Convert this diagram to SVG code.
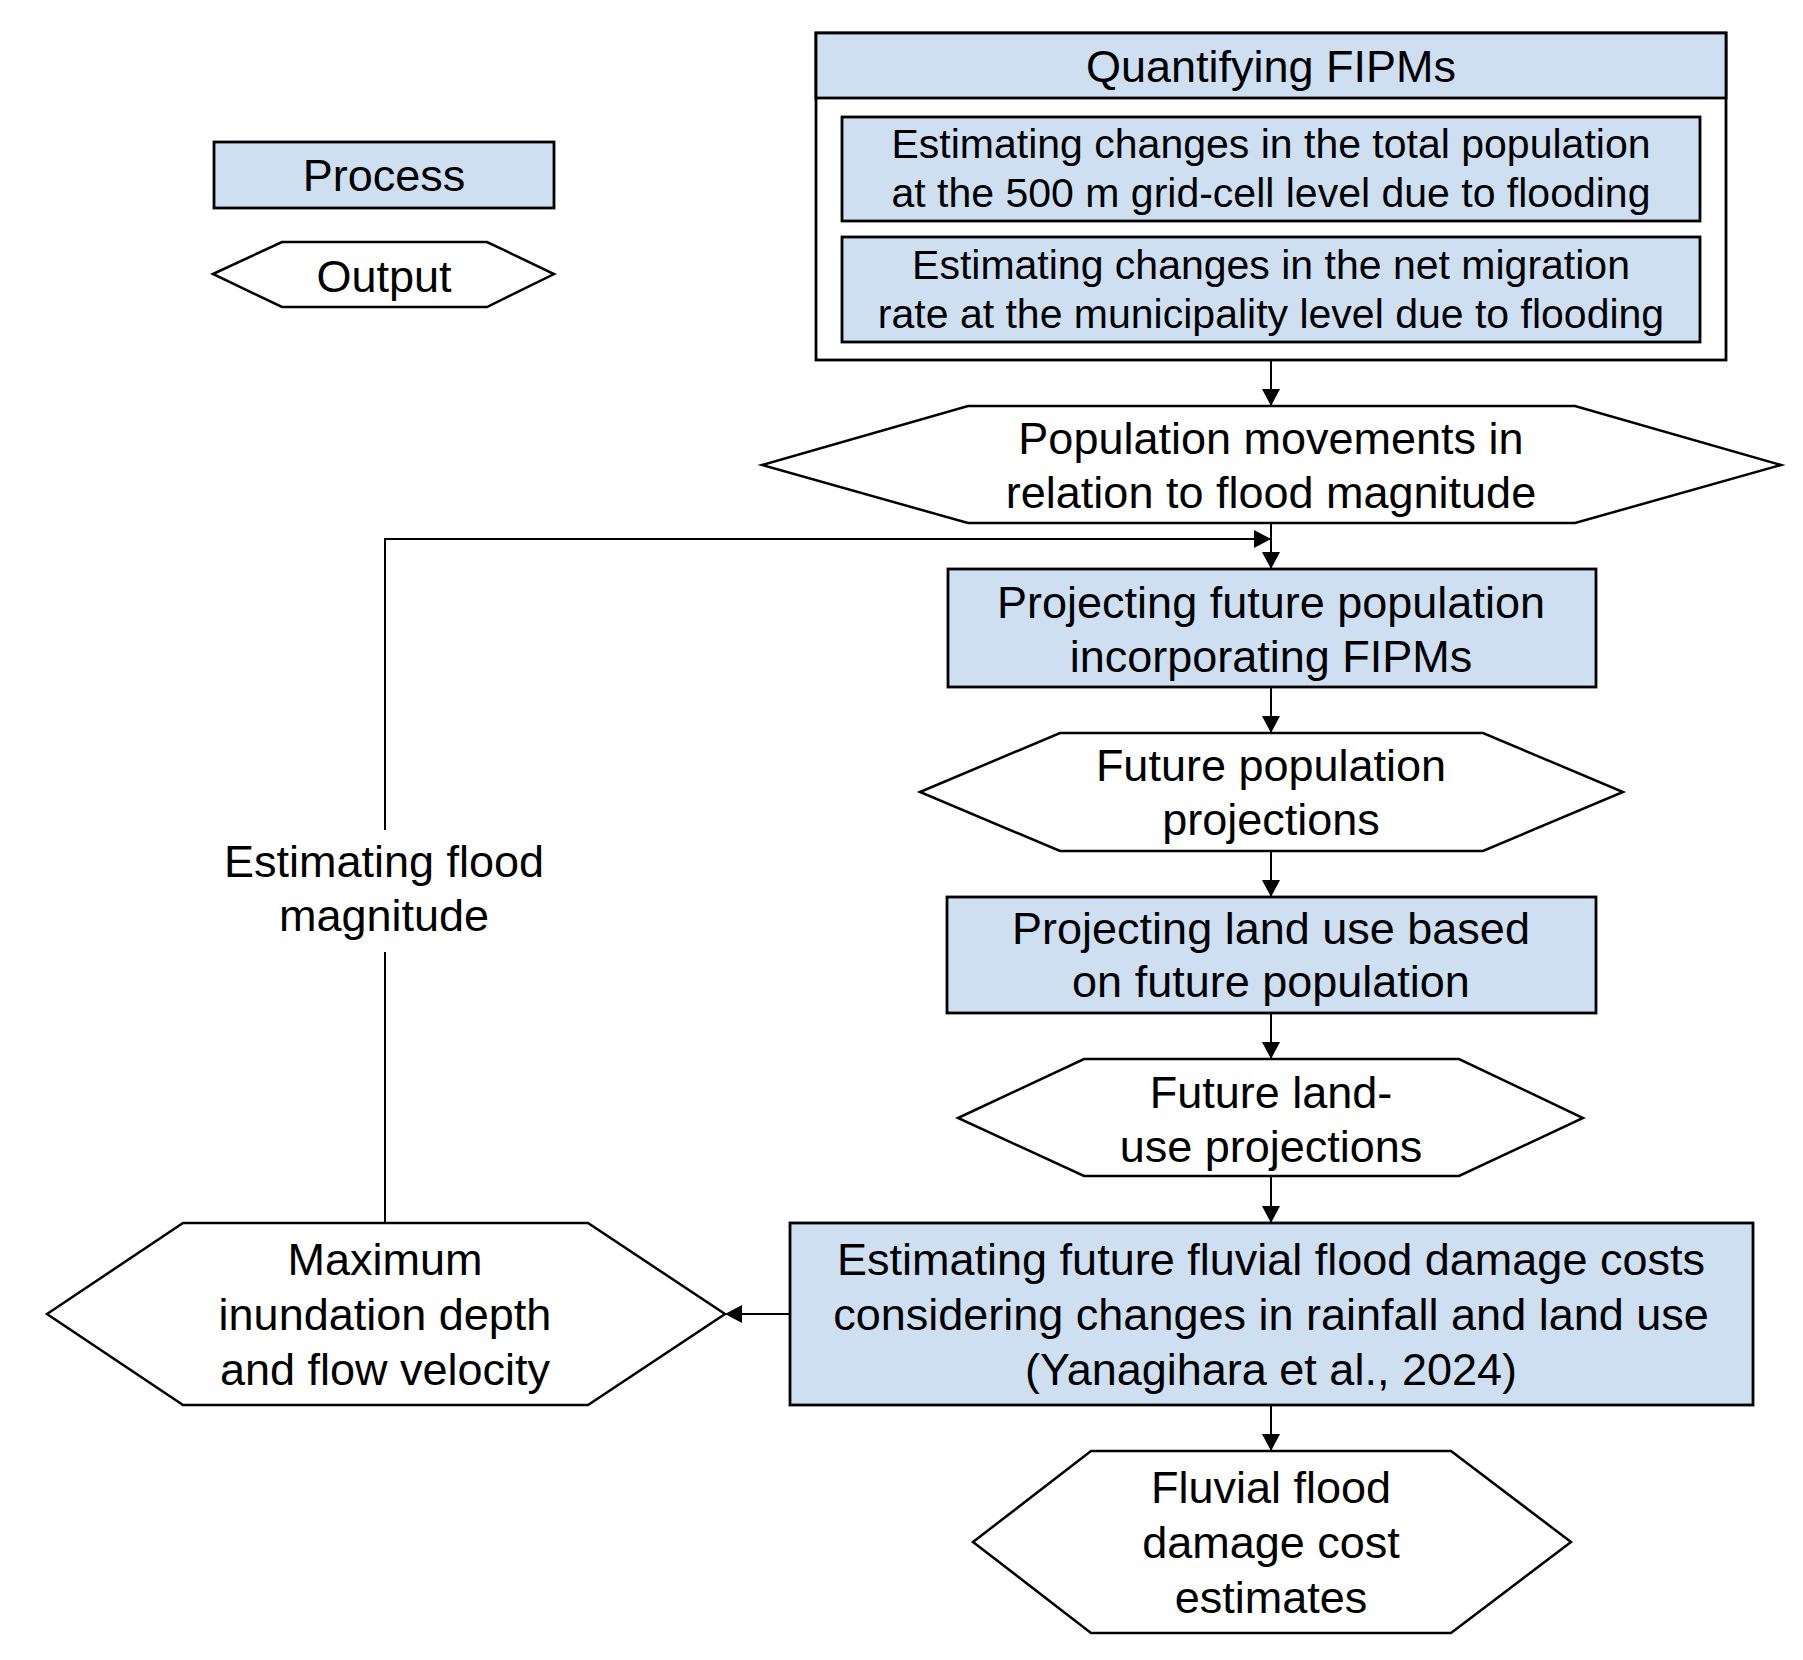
<svg xmlns="http://www.w3.org/2000/svg" width="1803" height="1660" viewBox="0 0 1803 1660">
<style>
text{font-family:"Liberation Sans",Arial,sans-serif;font-size:45px;fill:#000;text-anchor:middle}
.small{font-size:41px}
.proc{fill:#cddff0;stroke:#000;stroke-width:2.8}
.out{fill:#fff;stroke:#000;stroke-width:2.5}
.frame{fill:#fff;stroke:#000;stroke-width:2.8}
.conn{fill:none;stroke:#000;stroke-width:2}
</style>
<defs>
<marker id="arr" markerUnits="userSpaceOnUse" markerWidth="17" markerHeight="18" refX="17" refY="9" orient="auto" viewBox="0 0 17 18">
<path d="M0,0 L17,9 L0,18 z" fill="#000"/>
</marker>
</defs>
<rect width="1803" height="1660" fill="#fff"/>

<g id="legend-process">
<rect class="proc" x="214" y="142" width="340" height="66"/>
<text x="384" y="191">Process</text>
</g>
<g id="legend-output">
<polygon class="out" points="213,274 282,242 487,242 554,274 487,307 282,307"/>
<text x="384" y="292">Output</text>
</g>

<g id="quantifying">
<rect class="frame" x="816" y="33" width="910" height="327"/>
<rect class="proc" x="816" y="33" width="910" height="65"/>
<text x="1271" y="82">Quantifying FIPMs</text>
<g id="total-population">
<rect class="proc" x="842" y="117" width="858" height="104"/>
<text class="small" x="1271" y="158">Estimating changes in the total population</text>
<text class="small" x="1271" y="207">at the 500 m grid-cell level due to flooding</text>
</g>
<g id="net-migration">
<rect class="proc" x="842" y="237" width="858" height="105"/>
<text class="small" x="1271" y="279">Estimating changes in the net migration</text>
<text class="small" x="1271" y="328">rate at the municipality level due to flooding</text>
</g>
</g>

<g id="population-movements">
<polygon class="out" points="762,465 968,406 1575,406 1781,465 1575,523 968,523"/>
<text x="1271" y="454">Population movements in</text>
<text x="1271" y="508">relation to flood magnitude</text>
</g>

<g id="projecting-population">
<rect class="proc" x="948" y="569" width="648" height="118"/>
<text x="1271" y="618">Projecting future population</text>
<text x="1271" y="672">incorporating FIPMs</text>
</g>

<g id="future-population">
<polygon class="out" points="920,792 1060,733 1483,733 1623,792 1483,851 1060,851"/>
<text x="1271" y="781">Future population</text>
<text x="1271" y="835">projections</text>
</g>

<g id="projecting-land-use">
<rect class="proc" x="947" y="897" width="649" height="116"/>
<text x="1271" y="944">Projecting land use based</text>
<text x="1271" y="997">on future population</text>
</g>

<g id="future-land-use">
<polygon class="out" points="958,1118 1084,1059 1459,1059 1583,1118 1459,1176 1084,1176"/>
<text x="1271" y="1108">Future land-</text>
<text x="1271" y="1162">use projections</text>
</g>

<g id="estimating-damage">
<rect class="proc" x="790" y="1223" width="963" height="182"/>
<text x="1271" y="1275">Estimating future fluvial flood damage costs</text>
<text x="1271" y="1330">considering changes in rainfall and land use</text>
<text x="1271" y="1385">(Yanagihara et al., 2024)</text>
</g>

<g id="damage-estimates">
<polygon class="out" points="973,1542 1091,1451 1451,1451 1571,1542 1451,1633 1091,1633"/>
<text x="1271" y="1503">Fluvial flood</text>
<text x="1271" y="1558">damage cost</text>
<text x="1271" y="1613">estimates</text>
</g>

<g id="max-inundation">
<polygon class="out" points="47,1314 183,1223 588,1223 725,1314 588,1405 183,1405"/>
<text x="385" y="1275">Maximum</text>
<text x="385" y="1330">inundation depth</text>
<text x="385" y="1385">and flow velocity</text>
</g>

<g id="connectors">
<line class="conn" x1="1271" y1="360" x2="1271" y2="406" marker-end="url(#arr)"/>
<line class="conn" x1="1271" y1="523" x2="1271" y2="569" marker-end="url(#arr)"/>
<line class="conn" x1="1271" y1="687" x2="1271" y2="733" marker-end="url(#arr)"/>
<line class="conn" x1="1271" y1="851" x2="1271" y2="897" marker-end="url(#arr)"/>
<line class="conn" x1="1271" y1="1013" x2="1271" y2="1059" marker-end="url(#arr)"/>
<line class="conn" x1="1271" y1="1176" x2="1271" y2="1223" marker-end="url(#arr)"/>
<line class="conn" x1="1271" y1="1405" x2="1271" y2="1451" marker-end="url(#arr)"/>
<line class="conn" x1="790" y1="1314" x2="725" y2="1314" marker-end="url(#arr)"/>
<line class="conn" x1="385" y1="1223" x2="385" y2="952"/>
<path class="conn" d="M385,830 V539 H1271" marker-end="url(#arr)"/>
<g id="loop-label">
<text x="384" y="877">Estimating flood</text>
<text x="384" y="931">magnitude</text>
</g>
</g>
</svg>
